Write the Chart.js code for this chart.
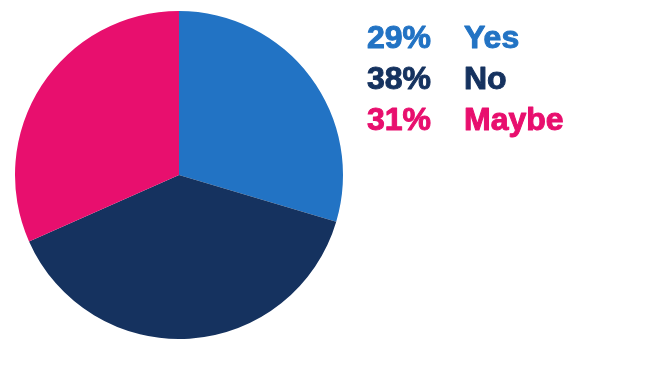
<!DOCTYPE html>
<html>
<head>
<meta charset="utf-8">
<script src="https://cdn.jsdelivr.net/npm/chart.js@4/dist/chart.umd.min.js"></script>
<style>
  html, body { margin: 0; padding: 0; background: #ffffff; }
  #wrap { width: 650px; height: 372px; position: relative; }
</style>
</head>
<body>
<div id="wrap"><canvas id="pieChart" width="650" height="372"></canvas></div>
<script>
// chart data
const categories = ['Yes', 'No', 'Maybe'];
const values = [29, 38, 31];
const percentLabels = ['29%', '38%', '31%'];
const sliceColors = ['#2273c4', '#15325f', '#e80f6e'];

// draws the "29%   Yes" style legend to the right of the pie
const textLegend = {
    id: 'textLegend',
    afterDraw(chart) {
        const ctx = chart.ctx;
        ctx.save();
        ctx.font = 'bold 32px "Liberation Sans", Arial, sans-serif';
        ctx.textBaseline = 'alphabetic';
        ctx.textAlign = 'left';
        ctx.lineWidth = 1;
        ctx.lineJoin = 'round';
        categories.forEach((name, i) => {
            const y = 48 + i * 41;
            ctx.fillStyle = sliceColors[i];
            ctx.strokeStyle = sliceColors[i];
            ctx.fillText(percentLabels[i], 367, y);
            ctx.strokeText(percentLabels[i], 367, y);
            ctx.fillText(name, 464, y);
            ctx.strokeText(name, 464, y);
        });
        ctx.restore();
    }
};

new Chart(document.getElementById('pieChart'), {
    type: 'pie',
    data: {
        labels: categories,
        datasets: [{
            data: values,
            backgroundColor: sliceColors,
            borderWidth: 0
        }]
    },
    options: {
        responsive: false,
        animation: false,
        layout: { padding: { left: 15, right: 307, top: 11, bottom: 33 } },
        plugins: {
            legend: { display: false },
            tooltip: { enabled: false }
        }
    },
    plugins: [textLegend]
});
</script>
</body>
</html>
